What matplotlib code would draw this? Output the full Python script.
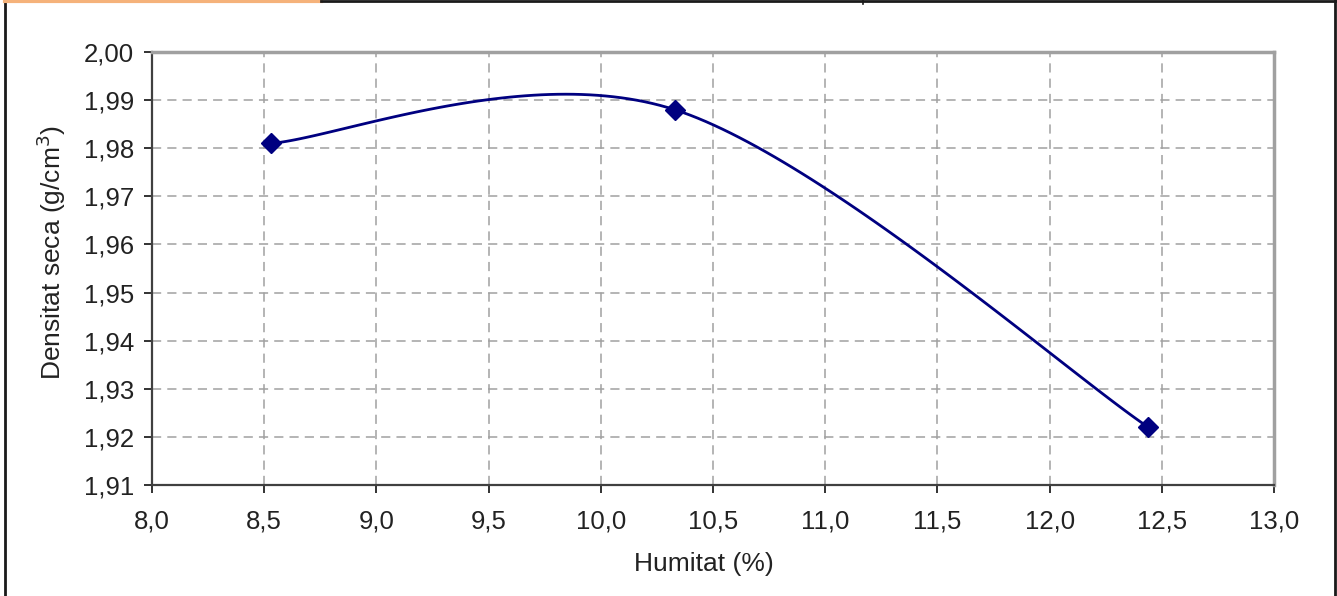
import numpy as np
import matplotlib.pyplot as plt
from matplotlib.lines import Line2D
from matplotlib.ticker import FuncFormatter

humitat = [8.53, 10.33, 12.44]
densitat = [1.981, 1.988, 1.922]

x_ticks = [8.0, 8.5, 9.0, 9.5, 10.0, 10.5, 11.0, 11.5, 12.0, 12.5, 13.0]
y_ticks = [1.91, 1.92, 1.93, 1.94, 1.95, 1.96, 1.97, 1.98, 1.99, 2.00]


def smooth(xs, ys, n=60):
    # catmull-rom style bezier, like the spreadsheet "smoothed line"
    p = np.column_stack([xs, ys])
    pts = []
    for i in range(len(p) - 1):
        p0 = p[i - 1] if i > 0 else p[i]
        p3 = p[i + 2] if i + 2 < len(p) else p[i + 1]
        c1 = p[i] + (p[i + 1] - p0) / 6
        c2 = p[i + 1] - (p3 - p[i]) / 6
        t = np.linspace(0, 1, n)[:, None]
        seg = ((1 - t) ** 3 * p[i] + 3 * (1 - t) ** 2 * t * c1
               + 3 * (1 - t) * t ** 2 * c2 + t ** 3 * p[i + 1])
        pts.append(seg)
    pts = np.vstack(pts)
    return pts[:, 0], pts[:, 1]


plt.rcParams['font.family'] = ['Liberation Sans', 'DejaVu Sans']

fig = plt.figure(figsize=(13.37, 5.96), dpi=100)
ax = fig.add_axes([152 / 1337, 1 - 485 / 596, 1122 / 1337, 433 / 596])

sx, sy = smooth(humitat, densitat)
ax.plot(sx, sy, color='#000080', lw=2, zorder=3)
ax.plot(humitat, densitat, linestyle='none', marker='D', ms=10.5,
        color='#000080', zorder=4, clip_on=False)

ax.set_xlim(8.0, 13.0)
ax.set_ylim(1.91, 2.00)
ax.set_xticks(x_ticks)
ax.set_yticks(y_ticks)
ax.xaxis.set_major_formatter(FuncFormatter(lambda v, p: f"{v:.1f}".replace('.', ',')))
ax.yaxis.set_major_formatter(FuncFormatter(lambda v, p: f"{v:.2f}".replace('.', ',')))
ax.tick_params(axis='both', labelsize=18.5, colors='#222222', length=6,
               width=1.3, direction='out')
ax.tick_params(axis='x', pad=12)
ax.tick_params(axis='y', pad=7)

ax.grid(True, color='#a0a0a0', linestyle=(0, (6, 4)), linewidth=1.1)
ax.set_axisbelow(True)

for s in ['left', 'bottom']:
    ax.spines[s].set_color('#404040')
    ax.spines[s].set_linewidth(1.6)
for s in ['top', 'right']:
    ax.spines[s].set_color('#a0a0a0')
    ax.spines[s].set_linewidth(2.5)

ax.set_xlabel('Humitat (%)', fontsize=19, color='#222222')
ax.set_ylabel('Densitat seca (g/cm$^3$)', fontsize=19, color='#222222')
ax.xaxis.set_label_coords(0.492, -0.155)
ax.yaxis.set_label_coords(-0.075, 0.536)

# outer frame of the screenshot
fig.add_artist(Line2D([5 / 1337, 5 / 1337], [0, 1], color='#1a1a1a', lw=2))
fig.add_artist(Line2D([1335 / 1337, 1335 / 1337], [0, 1], color='#1a1a1a', lw=2))
fig.add_artist(Line2D([5 / 1337, 321 / 1337], [1 - 1 / 596] * 2, color='#f5b27a', lw=3))
fig.add_artist(Line2D([321 / 1337, 1], [1 - 1 / 596] * 2, color='#1a1a1a', lw=2))
fig.add_artist(Line2D([863 / 1337] * 2, [1, 1 - 4 / 596], color='#1a1a1a', lw=1.2))

fig.savefig('out.png', dpi=100)
